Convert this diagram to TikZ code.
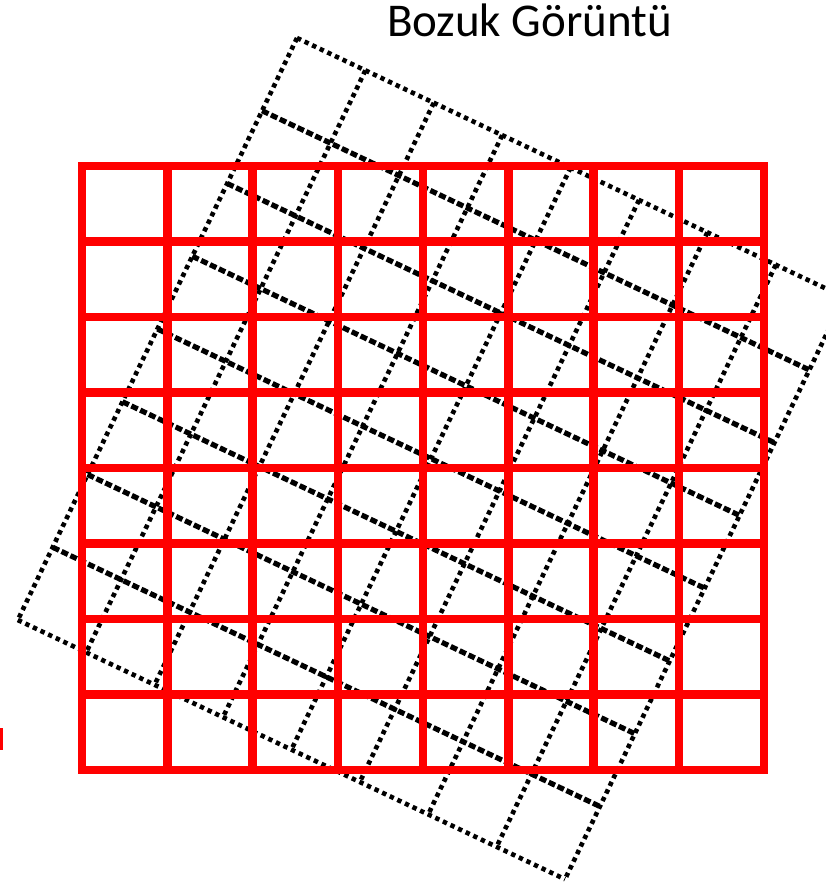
\documentclass[tikz,border=0pt]{standalone}
\usepackage{fontspec}
\setmainfont{Carlito}
\begin{document}
\begin{tikzpicture}[
    x=1pt, y=-1pt,
    redline/.style={draw=red, line width=8.5pt, line cap=rect},
    dotline/.style={draw=black, line width=4.6pt, dash pattern=on 4.4pt off 4pt},
    dashline/.style={draw=black, line width=5.2pt, dash pattern=on 7pt off 2.8pt},
    title/.style={font=\fontsize{47}{56}\selectfont, anchor=base, inner sep=0pt}
]
\useasboundingbox (0,0) rectangle (826,888);
\clip (0,0) rectangle (826,888);

% distorted (rotated) grid
\begin{scope}[shift={(297pt,-38pt)}, x={(68.4pt,-32.4pt)}, y={(-34.9pt,-72.75pt)}]
\foreach \c in {0,...,8}
  \draw[dotline] (\c,0) -- (\c,8);
\draw[dotline] (0,0) -- (8,0);
\draw[dotline] (0,8) -- (8,8);
\foreach \r in {1,...,7}
  \draw[dashline] (0,\r) -- (8,\r);
\end{scope}

% reference grid
\begin{scope}[shift={(82pt,-166pt)}, x={(85.25pt,0pt)}, y={(0pt,-75.5pt)}]
\foreach \i in {0,...,8} {
  \draw[redline] (\i,0) -- (\i,8);
  \draw[redline] (0,\i) -- (8,\i);
}
\end{scope}

\fill[red] (0,728) rectangle (3,750);
\node[title] (title) at (529.5,37) {Bozuk Görüntü};
\end{tikzpicture}
\end{document}
